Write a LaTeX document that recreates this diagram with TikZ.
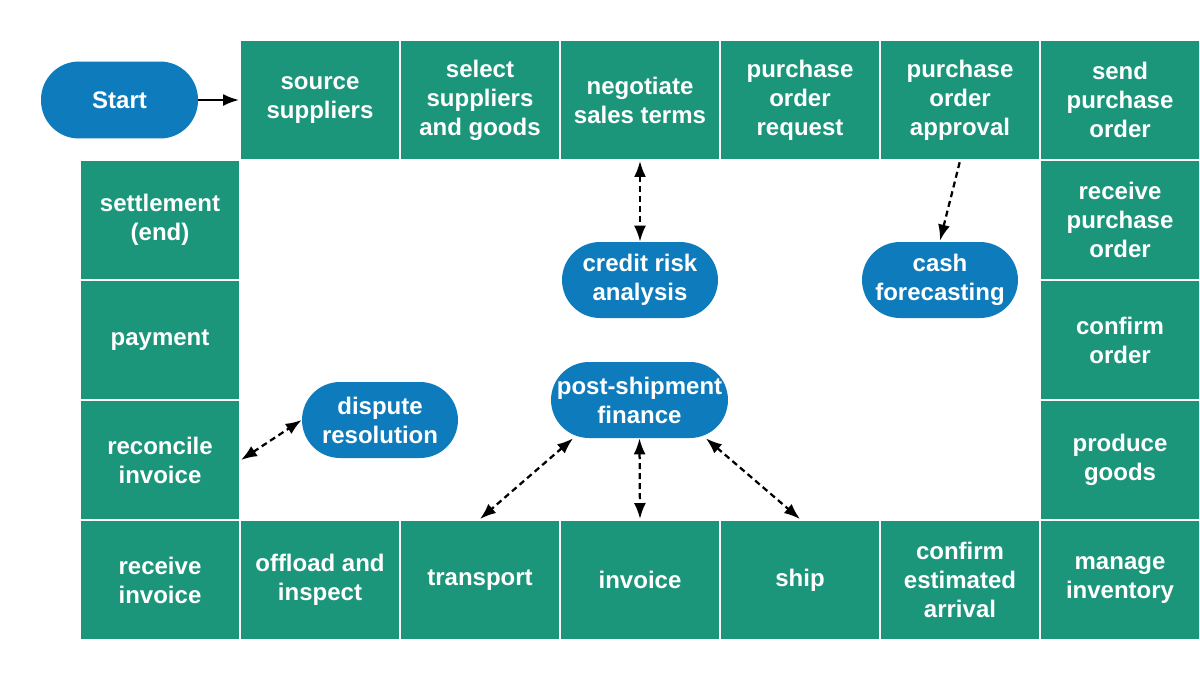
\documentclass[tikz,border=0pt]{standalone}
\usepackage{fontspec}
\setmainfont{Liberation Sans}
\usetikzlibrary{arrows.meta}
\definecolor{cellgreen}{HTML}{1B967B}
\definecolor{pillblue}{HTML}{0E7BBC}
\begin{document}
\begin{tikzpicture}[x=0.02cm, y=-0.02cm, >={Latex[length=0.32cm, width=0.24cm]}]
			\tikzstyle{cell} = [rectangle, fill=cellgreen, draw=white, line width=0.04cm, minimum width=3.2cm, minimum height=2.4cm, inner sep=0pt, text=white, align=center, font=\fontsize{13.66pt}{16.5pt}\selectfont\bfseries]
			\tikzstyle{pill} = [rectangle, rounded corners=0.76cm, fill=pillblue, minimum width=3.12cm, minimum height=1.52cm, inner sep=0pt, text=white, align=center, font=\fontsize{13.66pt}{16.5pt}\selectfont\bfseries]
			\tikzstyle{link} = [dashed, dash pattern=on 0.12cm off 0.08cm, line width=0.045cm, <->]
			\useasboundingbox (0,0) rectangle (1200,680);
			\node[pill, minimum width=3.14cm, minimum height=1.54cm] (start) at (119.5,100) {Start};
			\node[cell] (source) at (320,100) {source\\suppliers};
			\node[cell] (select) at (480,100) {select\\suppliers\\and goods};
			\node[cell] (negotiate) at (640,100) {negotiate\\sales terms};
			\node[cell] (request) at (800,100) {purchase\\order\\request};
			\node[cell] (approval) at (960,100) {purchase\\order\\approval};
			\node[cell] (send) at (1120,100) {send\\purchase\\order};
			\node[cell] (receiveorder) at (1120,220) {receive\\purchase\\order};
			\node[cell] (confirm) at (1120,340) {confirm\\order};
			\node[cell] (produce) at (1120,460) {produce\\goods};
			\node[cell] (inventory) at (1120,580) {manage\\inventory};
			\node[cell] (arrival) at (960,580) {confirm\\estimated\\arrival};
			\node[cell] (ship) at (800,580) {ship};
			\node[cell] (invoice) at (640,580) {invoice};
			\node[cell] (transport) at (480,580) {transport};
			\node[cell] (offload) at (320,580) {offload and\\inspect};
			\node[cell] (receiveinvoice) at (160,580) {receive\\invoice};
			\node[cell] (reconcile) at (160,460) {reconcile\\invoice};
			\node[cell] (payment) at (160,340) {payment};
			\node[cell] (settlement) at (160,220) {settlement\\(end)};
			\node[pill] (credit) at (640,280) {credit risk\\analysis};
			\node[pill] (cash) at (940,280) {cash\\forecasting};
			\node[pill, minimum width=3.54cm] (post) at (639.5,400) {post-shipment\\finance};
			\node[pill] (dispute) at (380,420) {dispute\\resolution};
			\draw[line width=0.04cm, ->] (start.east) -- (source.west);
			\draw[link] (negotiate.south) -- (credit.north);
			\draw[link, <-] ([yshift=0.02cm]cash.north) -- (approval.south);
			\draw[link] (reconcile.east) -- (dispute.west);
			\draw[link] (post.210) -- (transport.north);
			\draw[link] (post.south) -- (invoice.north);
			\draw[link] (post.330) -- (ship.north);
\end{tikzpicture}
\end{document}
